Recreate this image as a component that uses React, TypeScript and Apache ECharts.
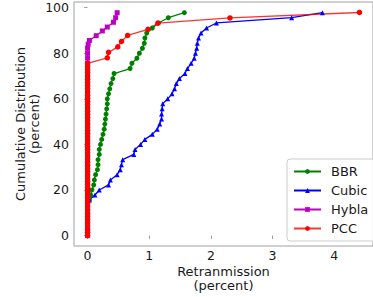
import React, { useEffect, useRef } from "react";
import * as echarts from "echarts";

// CDF levels (percent) shared by BBR and Cubic
const levels45 = [0, 2.2, 4.4, 6.7, 8.9, 11.1, 13.3, 15.6, 17.8, 20, 22.2, 24.4, 26.7, 28.9, 31.1, 33.3, 35.6, 37.8, 40, 42.2, 44.4, 46.7, 48.9, 51.1, 53.3, 55.6, 57.8, 60, 62.2, 64.4, 66.7, 68.9, 71.1, 73.3, 75.6, 77.8, 80, 82.2, 84.4, 86.7, 88.9, 91.1, 93.3, 95.6, 97.8];

const bbrX = [0, 0, 0, 0, 0, 0, 0, 0.03, 0.05, 0.07, 0.10, 0.11, 0.13, 0.16, 0.17, 0.17, 0.19, 0.19, 0.21, 0.23, 0.25, 0.27, 0.28, 0.29, 0.30, 0.31, 0.32, 0.32, 0.34, 0.36, 0.38, 0.41, 0.43, 0.69, 0.72, 0.80, 0.84, 0.89, 0.92, 0.93, 0.96, 1.05, 1.15, 1.31, 1.57];

const cubicX = [0, 0, 0, 0, 0, 0, 0, 0.03, 0.12, 0.19, 0.34, 0.37, 0.48, 0.53, 0.55, 0.57, 0.75, 0.77, 0.86, 0.93, 1.05, 1.13, 1.17, 1.20, 1.20, 1.21, 1.22, 1.30, 1.37, 1.41, 1.44, 1.49, 1.58, 1.62, 1.68, 1.73, 1.75, 1.77, 1.78, 1.80, 1.84, 1.93, 2.09, 3.31, 3.81];

const hyblaY = [0, 2.1, 4.2, 6.3, 8.4, 10.5, 12.6, 14.7, 16.8, 18.9, 21, 23.1, 25.2, 27.3, 29.4, 31.5, 33.6, 35.7, 37.8, 39.9, 42, 44.1, 46.2, 48.3, 50.4, 52.5, 54.6, 56.7, 58.8, 60.9, 63, 65.1, 67.2, 69.3, 71.4, 73.5, 75.6, 77.9, 80, 82.2, 84, 85.6, 87.7, 89.8, 91.5, 93.6, 95.6, 97.8];
const hyblaX = [0, 0, 0, 0, 0, 0, 0, 0, 0, 0, 0, 0, 0, 0, 0, 0, 0, 0, 0, 0, 0, 0, 0, 0, 0, 0, 0, 0, 0, 0, 0, 0, 0, 0, 0, 0, 0, 0, 0, 0, 0.01, 0.03, 0.14, 0.24, 0.32, 0.42, 0.455, 0.48];

const pccY = [0, 1.4, 2.8, 4.2, 5.6, 7, 8.4, 9.8, 11.2, 12.6, 14, 15.4, 16.8, 18.2, 19.6, 21, 22.4, 23.8, 25.2, 26.6, 28, 29.4, 30.8, 32.2, 33.6, 35, 36.4, 37.8, 39.2, 40.6, 42, 43.4, 44.8, 46.2, 47.6, 49, 50.4, 51.8, 53.2, 54.6, 56, 57.4, 58.8, 60.2, 61.6, 63, 64.4, 65.8, 67.2, 68.6, 70, 71.4, 72.8, 74.2, 75.6, 78, 80.4, 82.8, 85.2, 87.8, 90.5, 93.2, 95.5, 97.9];
const pccX = [0, 0, 0, 0, 0, 0, 0, 0, 0, 0, 0, 0, 0, 0, 0, 0, 0, 0, 0, 0, 0, 0, 0, 0, 0, 0, 0, 0, 0, 0, 0, 0, 0, 0, 0, 0, 0, 0, 0, 0, 0, 0, 0, 0, 0, 0, 0, 0, 0, 0, 0, 0, 0, 0, 0, 0.32, 0.34, 0.49, 0.55, 0.65, 0.98, 1.14, 2.31, 4.41];

const xTicks = [0, 1, 2, 3, 4];
const yTicks = [0, 20, 40, 60, 80, 100];

const FONT = "DejaVu Sans";

function pairs(xs: number[], ys: number[]) {
  return xs.map((x, i) => [x, ys[i]]);
}

export default function App() {
  const ref = useRef<HTMLDivElement>(null);
  useEffect(() => {
    if (!ref.current) return;
    const chart = echarts.init(ref.current, undefined, { renderer: "svg" });
    const mk = (name: string, data: number[][], color: string, symbol: string, size: number, lineOpacity = 1) => ({
      name,
      type: "line",
      data,
      symbol,
      symbolSize: size,
      showSymbol: true,
      lineStyle: { color, width: 1.3, opacity: lineOpacity },
      itemStyle: { color },
      emphasis: { disabled: true },
    });
    chart.setOption({
      animation: false,
      grid: {
        left: 74,
        top: 2,
        width: 306,
        height: 245,
        show: true,
        borderColor: "#a0a0a0",
        borderWidth: 1,
        containLabel: false,
      },
      xAxis: {
        type: "value",
        min: -0.22,
        max: 4.63,
        splitLine: { show: false },
        axisLine: { show: false },
        axisTick: { show: true, customValues: xTicks, length: 3.5, inside: false, lineStyle: { color: "#a0a0a0" } },
        axisLabel: { customValues: xTicks, margin: 3, fontSize: 12.5, fontFamily: FONT, color: "#1a1a1a" },
        name: "Retranmission\n(percent)",
        nameLocation: "middle",
        nameGap: 19,
        nameMoveOverlap: false,
        nameTextStyle: { fontSize: 13, fontFamily: FONT, color: "#1a1a1a", lineHeight: 13.5 },
      },
      yAxis: {
        type: "value",
        min: -4.6,
        max: 102.5,
        splitLine: { show: false },
        axisLine: { show: false },
        axisTick: { show: true, customValues: yTicks, length: 3.5, inside: false, lineStyle: { color: "#a0a0a0" } },
        axisLabel: { customValues: yTicks, margin: 5, fontSize: 12.5, fontFamily: FONT, color: "#1a1a1a" },
        name: "Cumulative Distribution\n(percent)",
        nameLocation: "middle",
        nameGap: 33,
        nameMoveOverlap: false,
        nameTextStyle: { fontSize: 13, fontFamily: FONT, color: "#1a1a1a", lineHeight: 13.5 },
      },
      legend: {
        orient: "vertical",
        left: 287,
        top: 159,
        padding: [5, 60, 5, 6],
        borderColor: "#cccccc",
        borderWidth: 1,
        borderRadius: 3,
        backgroundColor: "rgba(255,255,255,0.8)",
        itemWidth: 27,
        itemHeight: 6,
        itemGap: 4,
        textStyle: { fontSize: 13, fontFamily: FONT, color: "#1a1a1a", padding: [0, 0, 0, 5], lineHeight: 15 },
        data: ["BBR", "Cubic", "Hybla", "PCC"],
      },
      series: [
        mk("BBR", pairs(bbrX, levels45), "#008000", "circle", 5),
        mk("Cubic", pairs(cubicX, levels45), "#0000ff", "triangle", 5),
        mk("Hybla", pairs(hyblaX, hyblaY), "#bf00bf", "rect", 5),
        mk("PCC", pairs(pccX, pccY), "#ff0000", "circle", 5.5, 0.8),
      ],
    });
    return () => chart.dispose();
  }, []);
  return (
    <div
      ref={ref}
      style={{ position: "fixed", left: 0, top: 0, width: 373, height: 297, background: "#fff" }}
    />
  );
}
